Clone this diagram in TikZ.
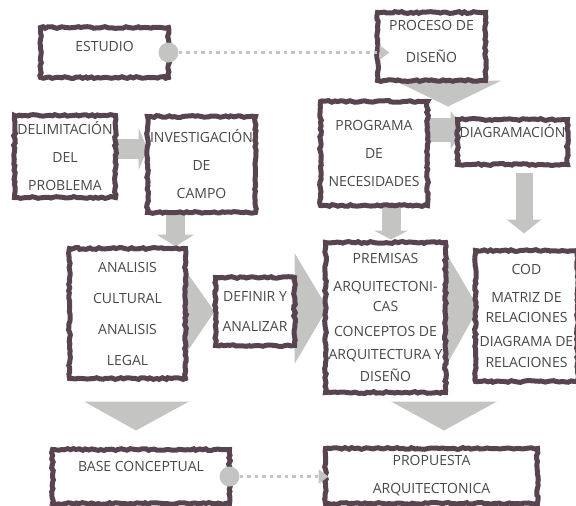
\documentclass[tikz,border=0pt]{standalone}
\usepackage{fontspec}
\setmainfont{Open Sans}
\usepackage{tikz}
\usetikzlibrary{arrows.meta,calc,backgrounds,decorations.pathmorphing}
\definecolor{boxc}{RGB}{88,68,80}
\definecolor{flowc}{RGB}{196,197,195}
\definecolor{txtc}{RGB}{72,72,72}
\newcommand{\boxfont}{\fontsize{14}{28}\selectfont}
\tikzset{
  box/.style={draw=boxc, fill=white, line width=5pt, inner sep=0pt, outer sep=0pt,
    align=center, font=\boxfont, text=txtc,
    decorate, decoration={random steps, segment length=3pt, amplitude=0.9pt}},
  dot/.style={circle, fill=flowc, minimum size=20pt, inner sep=0pt},
  dotline/.style={draw=flowc, line width=3.5pt, dash pattern=on 3.5pt off 4pt,
    -{Triangle[length=10pt,width=14pt]}},
  flow/.style={fill=flowc},
  block/.style={draw=flowc}
}

\begin{document}
\begin{tikzpicture}[x=1pt, y=-1pt]
		\useasboundingbox (0,0) rectangle (576,506);
		\node[box, minimum width=128pt, minimum height=50pt, text height=10pt, text depth=11.4pt](A) at (104.5,52.5){ESTUDIO};
		\node[box, minimum width=108pt, minimum height=68pt](B) at (431.5,46.5){PROCESO DE\\[4pt]DISEÑO\\[-18pt]\mbox{}};
		\node[box, minimum width=101pt, minimum height=82pt](C) at (65,156.5){DELIMITACIÓN\\DEL\\PROBLEMA};
		\node[box, minimum width=108pt, minimum height=96pt](D) at (201.5,164.5){INVESTIGACIÓN\\DE\\CAMPO};
		\node[box, minimum width=107pt, minimum height=104pt](E) at (374,153.5){PROGRAMA\\DE\\NECESIDADES};
		\node[box, minimum width=110pt, minimum height=45pt, text height=10pt, text depth=18.4pt](F) at (512.5,142){DIAGRAMACIÓN};
		\node[box, minimum width=116pt, minimum height=130pt](G) at (127.5,313.5){ANALISIS\\[3pt]CULTURAL\\[3pt]ANALISIS\\[3pt]LEGAL};
		\node[box, minimum width=79pt, minimum height=68pt](H) at (255,311.5){DEFINIR Y\\[2pt]ANALIZAR};
		\node[box, minimum width=120pt, minimum height=150pt](I) at (385.5,317.5){PREMISAS\\ARQUITECTONI-\\[-8pt]CAS\\[-3pt]CONCEPTOS DE\\[-5pt]ARQUITECTURA Y\\[-6pt]DISEÑO};
		\node[box, minimum width=102pt, minimum height=131pt](J) at (526.5,316){COD\\MATRIZ DE\\[-8pt]RELACIONES\\[-4pt]DIAGRAMA DE\\[-7pt]RELACIONES};
		\node[box, minimum width=177pt, minimum height=54pt, text height=10pt, text depth=19.4pt](K) at (141,476.5){BASE CONCEPTUAL};
		\node[box, minimum width=212pt, minimum height=55pt](L) at (431.5,476){PROPUESTA\\ARQUITECTONICA};
		% grey flow shapes behind the boxes
		\begin{scope}[on background layer]
			\fill[flow]([xshift=-37pt]B.south) -- ([xshift=70pt]B.south) -- ([xshift=16.5pt,yshift=-26pt]B.south) -- cycle;
			\draw[block, line width=20pt, -{Triangle[length=9pt,width=42pt]}]([yshift=7.5pt]C.east) -- ([yshift=15.5pt]D.west);
			\draw[block, line width=19pt, -{Triangle[length=12pt,width=37pt]}]([xshift=-26pt]D.south) -- ([xshift=48pt,yshift=2pt]G.north);
			\draw[block, line width=24pt, -{Triangle[length=14pt,width=38pt]}]([yshift=23.5pt]E.east) -- ([xshift=7pt,yshift=12pt]F.west);
			\draw[block, line width=17pt, -{Triangle[length=14pt,width=34pt]}]([xshift=11.5pt,yshift=-8pt]F.south) -- ([xshift=-2.5pt,yshift=17pt]J.north);
			\draw[block, line width=19pt, -{Triangle[length=9pt,width=34pt]}]([xshift=17pt]E.south) -- ([xshift=5.5pt,yshift=3pt]I.north);
			\fill[flow]([xshift=-6pt,yshift=51.5pt]G.east) -- ([xshift=-1pt]H.west) -- ([xshift=-6pt,yshift=-49.5pt]G.east) -- cycle;
			\fill[flow]([yshift=58.5pt]H.east) -- ([xshift=2pt,yshift=9.5pt]I.west) -- ([yshift=-52.5pt]H.east) -- cycle;
			\fill[flow]([yshift=65.5pt]I.east) -- ([xshift=3pt,yshift=8pt]J.west) -- ([yshift=-49.5pt]I.east) -- cycle;
			\fill[flow]([xshift=-43.5pt,yshift=-23pt]G.south) -- ([xshift=61.5pt,yshift=-23pt]G.south) -- ([xshift=-5pt,yshift=19pt]K.north) -- cycle;
			\fill[flow]([xshift=5.5pt,yshift=-9pt]I.south) -- ([xshift=111.5pt,yshift=-9pt]I.south) -- ([xshift=12.5pt,yshift=18pt]L.north) -- cycle;
		\end{scope}
		% dotted links
		\node[dot](dotA) at (A.east){};
		\draw[dotline](dotA) -- ($(dotA -| B.west)+(12,0)$);
		\node[dot](dotK) at (K.east){};
		\draw[dotline](dotK) -- ($(dotK -| L.west)+(3,0)$);
	\end{tikzpicture}
\end{document}
